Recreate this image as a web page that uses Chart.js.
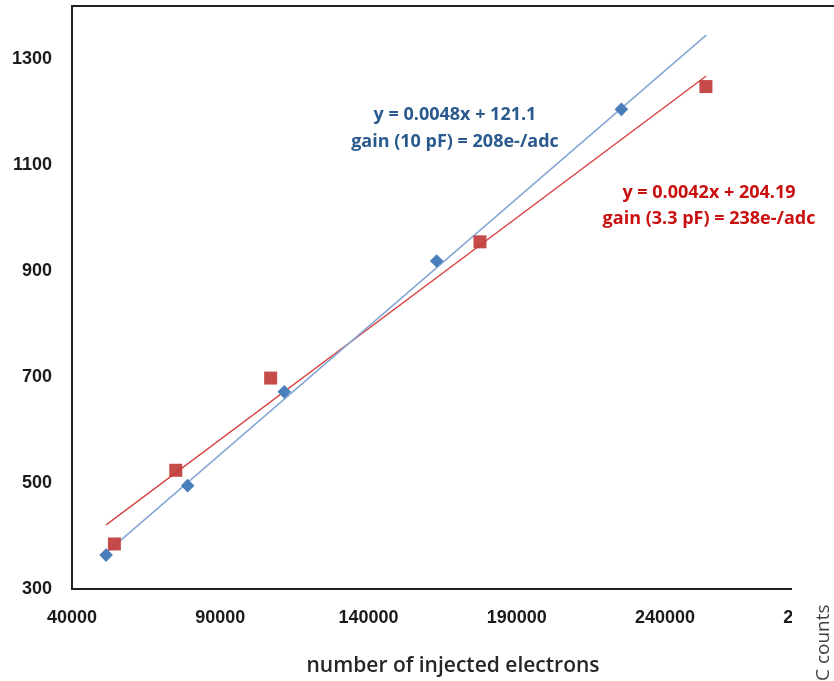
<!DOCTYPE html>
<html>
<head>
<meta charset="utf-8">
<script src="https://cdn.jsdelivr.net/npm/chart.js@4.4.1/dist/chart.umd.min.js"></script>
<style>
  html, body { margin: 0; padding: 0; background: #fff; }
  #wrap { width: 834px; height: 681px; }
</style>
</head>
<body>
<div id="wrap"><canvas id="gainChart" width="834" height="681"></canvas></div>
<script>
// measured points, 10 pF (blue diamonds)
const blueX = [51500, 79000, 111600, 163000, 225300];
const blueY = [364, 495, 672, 919, 1205];
// measured points, 3.3 pF (red squares)
const redX = [54300, 75000, 107000, 177600, 253800];
const redY = [385, 524, 698, 955, 1248];
// trend line end points
const blueFitX = [51500, 253900];
const blueFitY = [368, 1345];
const redFitX = [51500, 253900];
const redFitY = [421, 1268];
// axis ticks
const xTicks = [40000, 90000, 140000, 190000, 240000, 290000];
const yTicks = [300, 500, 700, 900, 1100, 1300];

const blueLabel = ['y = 0.0048x + 121.1', 'gain (10 pF) = 208e-/adc'];
const redLabel = ['y = 0.0042x + 204.19', 'gain (3.3 pF) = 238e-/adc'];

function toPoints(xs, ys) {
    return xs.map((x, i) => ({ x: x, y: ys[i] }));
}

// top frame line, equation labels and the cut-off right edge
const extrasPlugin = {
    id: 'extras',
    afterDraw(chart) {
        const ctx = chart.ctx;
        const area = chart.chartArea;
        ctx.save();
        ctx.strokeStyle = '#222';
        ctx.lineWidth = 2;
        ctx.beginPath();
        ctx.moveTo(area.left - 1, area.top);
        ctx.lineTo(chart.width, area.top);
        ctx.stroke();

        ctx.textAlign = 'center';
        ctx.textBaseline = 'middle';
        ctx.font = 'bold 18px "Open Sans"';
        ctx.fillStyle = '#2b5b8e';
        ctx.fillText(blueLabel[0], 455, 115);
        ctx.fillText(blueLabel[1], 455, 142);
        ctx.fillStyle = '#c81010';
        ctx.fillText(redLabel[0], 709, 193);
        ctx.fillText(redLabel[1], 709, 219);

        // the neighbouring panel covers the right edge
        ctx.fillStyle = '#fff';
        ctx.fillRect(792, 585, chart.width - 792, chart.height - 585);
        ctx.font = '19px "Open Sans"';
        ctx.fillStyle = '#404040';
        ctx.textAlign = 'left';
        ctx.textBaseline = 'alphabetic';
        ctx.translate(829, chart.height + ctx.measureText('AD').width);
        ctx.rotate(-Math.PI / 2);
        ctx.fillText('ADC counts', 0, 0);
        ctx.restore();
    }
};

const ctx = document.getElementById('gainChart').getContext('2d');
new Chart(ctx, {
    type: 'scatter',
    data: {
        datasets: [
            {
                label: '10 pF',
                data: toPoints(blueX, blueY),
                pointStyle: 'rectRot',
                pointRadius: 6.8,
                backgroundColor: '#4a7ebb',
                borderWidth: 0
            },
            {
                label: '3.3 pF',
                data: toPoints(redX, redY),
                pointStyle: 'rect',
                pointRadius: 9.2,
                backgroundColor: 'rgba(192, 60, 58, 0.92)',
                borderWidth: 0
            },
            {
                label: 'fit 10 pF',
                data: toPoints(blueFitX, blueFitY),
                showLine: true,
                pointRadius: 0,
                borderColor: '#86a7d6',
                borderWidth: 1.6
            },
            {
                label: 'fit 3.3 pF',
                data: toPoints(redFitX, redFitY),
                showLine: true,
                pointRadius: 0,
                borderColor: '#d8403e',
                borderWidth: 1.3
            }
        ]
    },
    options: {
        responsive: false,
        animation: false,
        layout: { autoPadding: false, padding: { top: 6, right: 0, left: 0, bottom: 0 } },
        plugins: {
            legend: { display: false },
            tooltip: { enabled: false }
        },
        scales: {
            x: {
                type: 'linear',
                min: 40000,
                max: 297000,
                afterBuildTicks: scale => { scale.ticks = xTicks.map(v => ({ value: v })); },
                afterFit: scale => {
                    scale.height = 92;
                    scale.paddingLeft = 0;
                    scale.paddingRight = 0;
                },
                grid: { display: false, drawTicks: false },
                border: { display: true, color: '#222', width: 2 },
                ticks: {
                    padding: 18,
                    color: '#1a1a1a',
                    autoSkip: false,
                    maxRotation: 0,
                    font: { family: '"Liberation Sans"', size: 18, weight: 'bold' },
                    callback: v => String(v)
                },
                title: {
                    display: true,
                    text: 'number of injected electrons',
                    color: '#262626',
                    font: { family: '"Open Sans"', size: 21, weight: '600' },
                    padding: { top: 0, bottom: 2 }
                }
            },
            y: {
                min: 300,
                max: 1400,
                afterBuildTicks: scale => { scale.ticks = yTicks.map(v => ({ value: v })); },
                afterFit: scale => {
                    scale.width = 72;
                    scale.paddingTop = 0;
                    scale.paddingBottom = 0;
                },
                grid: { display: false, drawTicks: false },
                border: { display: true, color: '#222', width: 2 },
                ticks: {
                    padding: 20,
                    color: '#1a1a1a',
                    font: { family: '"Liberation Sans"', size: 18, weight: 'bold' },
                    callback: v => String(v)
                }
            }
        }
    },
    plugins: [extrasPlugin]
});
</script>
</body>
</html>
